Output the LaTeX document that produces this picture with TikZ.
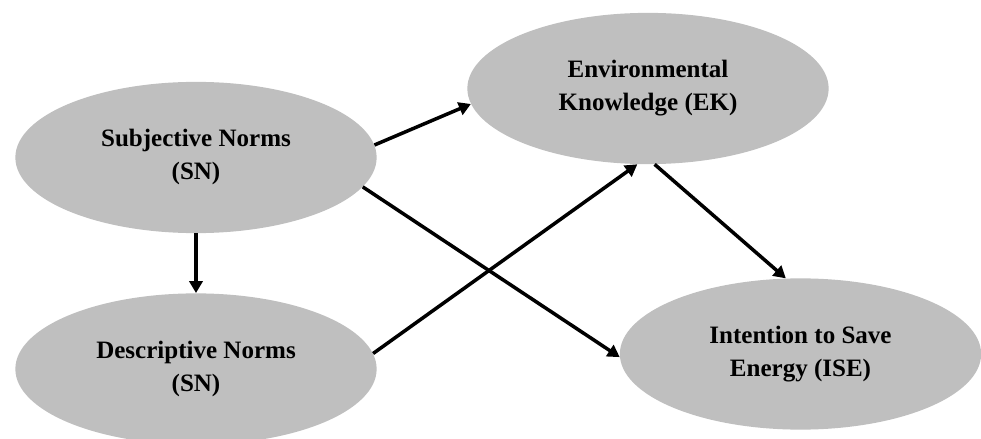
\documentclass[tikz,border=0pt]{standalone}
\usepackage{fontspec}
\setmainfont{Liberation Serif}
\usetikzlibrary{arrows.meta,shapes.geometric}
\definecolor{ovalgray}{RGB}{191,191,191}

\begin{document}
\begin{tikzpicture}[x=0.025cm, y=-0.025cm,
		factor/.style={ellipse, fill=ovalgray, minimum width=9.03cm, minimum height=3.78cm, inner sep=0pt, align=center, font=\fontsize{17.8}{23.4}\selectfont\bfseries},
		link/.style={line width=2.5pt, -{Triangle[length=0.3cm, width=0.33cm]}}]
			%%%%% START %%%%%
			
			\useasboundingbox (0, 0) rectangle (981, 439);
			\clip (0, 0) rectangle (981, 439);
			
			\node[factor] (sn) at (196, 157.5) {Subjective Norms\\(SN)\vphantom{g}};
			\node[factor] (dn) at (196, 369) {Descriptive Norms\\(SN)\vphantom{g}};
			\node[factor] (ek) at (648, 88.5) {Environmental\\Knowledge (EK)};
			\node[factor] (ise) at (800.5, 354) {Intention to Save\\Energy (ISE)};
			
			\draw[link] (sn.south) -- (dn.north);
			\draw[link] (sn.4) -- (ek.185);
			\draw[link] (sn.-10) -- (ise.181);
			\draw[link] (dn.5) -- (ek.262);
			\draw[link] (ek.-85) -- (ise.101);
			
			%%%%% END %%%%%
		\end{tikzpicture}
\end{document}
